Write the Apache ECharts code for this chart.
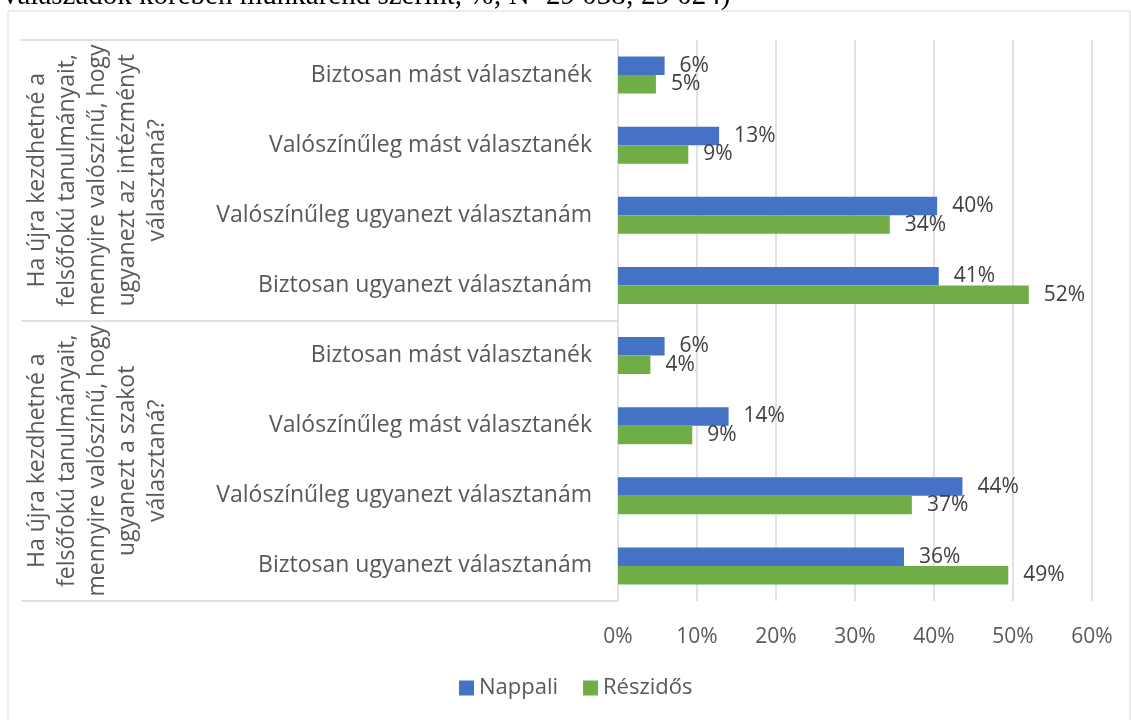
<!DOCTYPE html>
<html>
<head>
<meta charset="utf-8">
<script src="https://cdn.jsdelivr.net/npm/echarts@6/dist/echarts.min.js"></script>
<style>
  html, body { margin: 0; padding: 0; background: #fff; }
  #chart { width: 1131px; height: 720px; }
</style>
</head>
<body>
<div id="chart"></div>
<script>
// cut-off caption line of the figure above the chart
const caption = 'válaszadók körében munkarend szerint, %; N=29 038; 29 024)';

// question groups (outer category level)
const groups = [
    'Ha újra kezdhetné a\nfelsőfokú tanulmányait,\nmennyire valószínű, hogy\nugyanezt az intézményt\nválasztaná?',
    'Ha újra kezdhetné a\nfelsőfokú tanulmányait,\nmennyire valószínű, hogy\nugyanezt a szakot\nválasztaná?'
];

// answers (inner category level), top to bottom, repeated per group
const answers = [
    'Biztosan mást választanék',
    'Valószínűleg mást választanék',
    'Valószínűleg ugyanezt választanám',
    'Biztosan ugyanezt választanám'
];
const categories = answers.concat(answers);

const seriesNames = ['Nappali', 'Részidős'];
const nappali = [5.9, 12.8, 40.4, 40.6, 5.9, 14.0, 43.6, 36.2];
const reszidos = [4.8, 8.9, 34.4, 52.0, 4.1, 9.4, 37.2, 49.4];

const xTicks = [0, 10, 20, 30, 40, 50, 60];

const blue = '#4472C4';
const green = '#70AD47';
const gridGray = '#d9d9d9';
const textGray = '#595959';
const font = '"Open Sans", sans-serif';

const chart = echarts.init(document.getElementById('chart'), null, { renderer: 'canvas' });

function barLabel() {
    return {
        show: true,
        position: 'right',
        distance: 15,
        fontFamily: font,
        fontSize: 21,
        color: '#404040',
        formatter: p => Math.round(p.value) + '%'
    };
}

chart.setOption({
    animation: false,
    title: {
        text: caption,
        left: -2,
        top: -23,
        textStyle: {
            fontFamily: '"Liberation Serif", serif',
            fontWeight: 'normal',
            fontSize: 29,
            color: '#000'
        }
    },
    graphic: [{
        type: 'rect',
        shape: { x: 8, y: 11, width: 1122, height: 720 },
        style: { fill: 'none', stroke: gridGray, lineWidth: 1 },
        silent: true
    }],
    legend: {
        data: seriesNames,
        left: 454,
        top: 672,
        icon: 'rect',
        itemWidth: 15,
        itemHeight: 15,
        itemGap: 25,
        textStyle: { fontFamily: font, fontSize: 22, color: textGray }
    },
    grid: { left: 618, right: 39, top: 40, bottom: 119 },
    xAxis: {
        type: 'value',
        min: xTicks[0],
        max: xTicks[xTicks.length - 1],
        interval: 10,
        axisLine: { show: false },
        axisTick: { show: false },
        splitLine: { lineStyle: { color: gridGray, width: 1.5 } },
        axisLabel: {
            margin: 26,
            fontFamily: font,
            fontSize: 21,
            color: textGray,
            formatter: '{value}%'
        }
    },
    yAxis: [{
        type: 'category',
        data: categories,
        inverse: true,
        axisLine: { show: false },
        axisTick: { show: false },
        axisLabel: {
            interval: 0,
            margin: 26,
            fontFamily: font,
            fontSize: 23,
            color: textGray
        }
    }, {
        type: 'category',
        data: groups,
        inverse: true,
        position: 'left',
        axisLine: { show: false },
        axisTick: {
            show: true,
            interval: 0,
            length: 597,
            lineStyle: { color: gridGray, width: 1.5 }
        },
        axisLabel: {
            interval: 0,
            hideOverlap: false,
            rotate: 90,
            margin: 446,
            fontFamily: font,
            fontSize: 23,
            lineHeight: 30,
            color: textGray,
            align: 'center'
        }
    }],
    series: [{
        name: seriesNames[0],
        type: 'bar',
        yAxisIndex: 0,
        data: nappali,
        barWidth: 18.5,
        barGap: '0%',
        itemStyle: { color: blue },
        label: barLabel()
    }, {
        name: seriesNames[1],
        type: 'bar',
        yAxisIndex: 0,
        data: reszidos,
        barWidth: 18.5,
        barGap: '0%',
        itemStyle: { color: green },
        label: barLabel()
    }]
});

window.addEventListener('resize', () => chart.resize());
</script>
</body>
</html>
